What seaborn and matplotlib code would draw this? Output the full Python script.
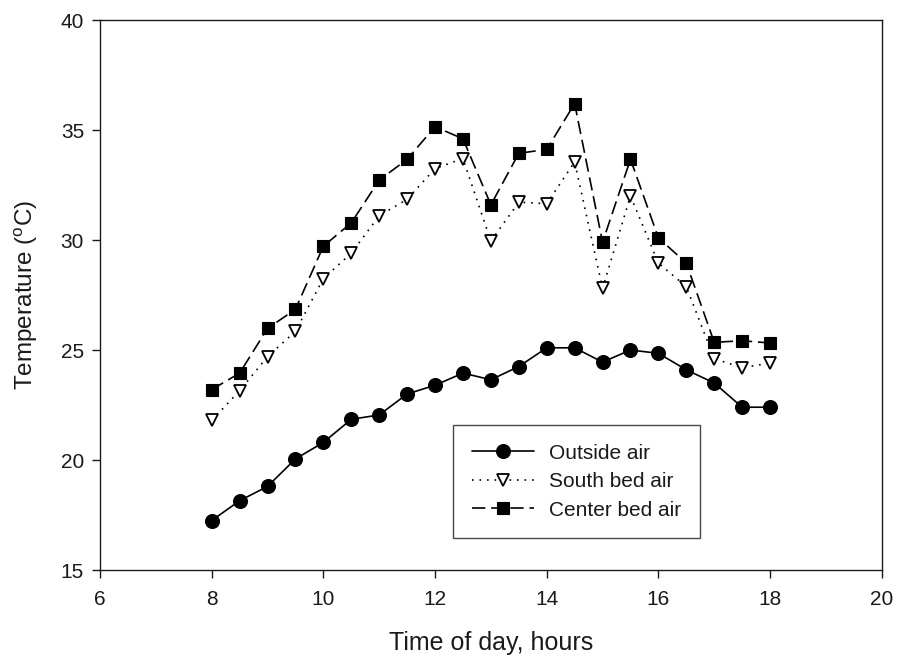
import matplotlib
matplotlib.use("Agg")
import matplotlib.pyplot as plt
import seaborn as sns
import pandas as pd

hours = [8, 8.5, 9, 9.5, 10, 10.5, 11, 11.5, 12, 12.5, 13, 13.5, 14, 14.5, 15, 15.5, 16, 16.5, 17, 17.5, 18]
outside_air = [17.25, 18.15, 18.8, 20.05, 20.8, 21.85, 22.05, 23.0, 23.4, 23.95, 23.65, 24.25, 25.1, 25.1, 24.45, 25.0, 24.85, 24.1, 23.5, 22.4, 22.4]
south_bed_air = [21.8, 23.15, 24.7, 25.85, 28.25, 29.4, 31.1, 31.85, 33.25, 33.7, 29.95, 31.72, 31.65, 33.55, 27.8, 32.0, 28.95, 27.88, 24.6, 24.2, 24.4]
center_bed_air = [23.2, 23.95, 25.98, 26.85, 29.72, 30.78, 32.72, 33.67, 35.15, 34.6, 31.6, 33.94, 34.12, 36.2, 29.9, 33.67, 30.1, 28.95, 25.35, 25.42, 25.32]

x_ticks = [6, 8, 10, 12, 14, 16, 18, 20]
y_ticks = [15, 20, 25, 30, 35, 40]

df = pd.DataFrame({"hour": hours, "outside": outside_air, "south": south_bed_air, "center": center_bed_air})

sns.set_style("ticks")
plt.rcParams["font.family"] = ["Liberation Sans", "DejaVu Sans"]
plt.rcParams["text.color"] = "#1a1a1a"
plt.rcParams["axes.labelcolor"] = "#1a1a1a"

fig = plt.figure(figsize=(8.97, 6.58), dpi=100)
ax = fig.add_axes([0.1115, 0.1337, 0.8715, 0.8359])

sns.lineplot(data=df, x="hour", y="outside", ax=ax, color="black", marker="o", markersize=10,
             markeredgecolor="black", markeredgewidth=0.8, linewidth=1.2, linestyle="-",
             label="Outside air")
sns.lineplot(data=df, x="hour", y="south", ax=ax, color="black", marker="v", markersize=9,
             markerfacecolor="white", markeredgecolor="black", markeredgewidth=1.3, linewidth=1.2,
             linestyle=(0, (1, 3.5)), label="South bed air")
sns.lineplot(data=df, x="hour", y="center", ax=ax, color="black", marker="s", markersize=9,
             markeredgecolor="black", markeredgewidth=0.8, linewidth=1.2,
             linestyle=(0, (8, 3.5)), label="Center bed air")

ax.set_xlim(6, 20)
ax.set_ylim(15, 40)
ax.set_xticks(x_ticks)
ax.set_yticks(y_ticks)
ax.tick_params(axis="both", direction="out", length=5.5, width=1, labelsize=15,
               colors="#1a1a1a", top=False, right=False)
ax.tick_params(axis="x", pad=9)
ax.tick_params(axis="y", pad=6)
for s in ax.spines.values():
    s.set_visible(True)
    s.set_color("#1a1a1a")
    s.set_linewidth(1.0)

ax.set_xlabel("Time of day, hours", fontsize=18, labelpad=16)
ax.set_ylabel("Temperature ($^\\mathregular{o}$C)", fontsize=17.5, labelpad=15)

leg = ax.legend(loc="upper left", bbox_to_anchor=(0.4514, 0.2636), borderaxespad=0,
                fontsize=15, frameon=True, fancybox=False, handlelength=3.0, borderpad=0.9,
                labelspacing=0.45, handletextpad=0.7)
leg.get_frame().set_edgecolor("#1a1a1a")
leg.get_frame().set_linewidth(1.0)

fig.savefig("out.png", dpi=100)
